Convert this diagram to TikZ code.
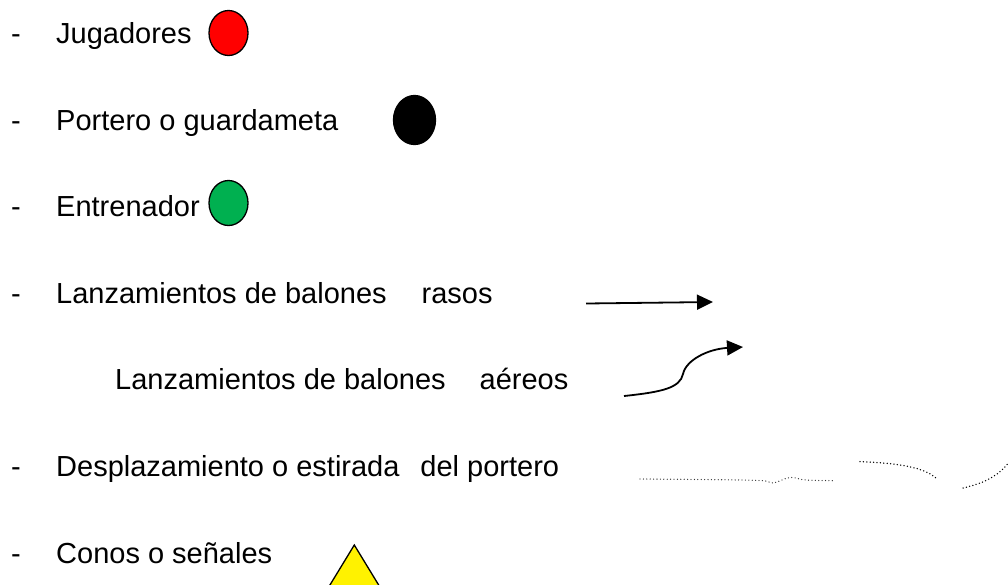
\documentclass[tikz,border=0pt]{standalone}
\usepackage{fontspec}
\setmainfont{Liberation Sans}
\usetikzlibrary{arrows.meta,shapes.geometric}
\definecolor{verde}{RGB}{0,176,80}

\tikzset{
  rotulo/.style={anchor=base west, inner sep=0pt, font=\fontsize{29}{34}\selectfont},
  ficha/.style={ellipse, draw, line width=1.3pt, inner sep=0pt, minimum width=39pt, minimum height=45pt},
  tiro/.style={line width=1.8pt, -{Triangle[length=16pt,width=15pt]}},
  estirada/.style={line cap=round, dash pattern=on 0pt off 3.4pt},
}

\begin{document}
\begin{tikzpicture}[x=1pt,y=-1pt]
    \useasboundingbox (0,0) rectangle (1008,584);
    \clip (0,0) rectangle (1008,584);

    % Guiones
    \foreach \n/\y in {1/43, 2/130, 3/216.5, 4/303, 6/476, 7/563}
        \node[rotulo] (guion\n) at (11,\y) {-};

    % Textos
    \node[rotulo] (jugadores) at (56,43) {Jugadores};
    \node[rotulo] (portero) at (56,130) {Portero o guardameta};
    \node[rotulo] (entrenador) at (56,216.5) {Entrenador};
    \node[rotulo] (rasos) at (56,303) {Lanzamientos de balones\hspace{35pt}rasos};
    \node[rotulo] (aereos) at (115,389) {Lanzamientos de balones\hspace{34pt}aéreos};
    \node[rotulo] (desplaza) at (56,476) {Desplazamiento o estirada\hspace{21pt}del portero};
    \node[rotulo] (conos) at (56,563) {Conos o señales};

    % Fichas
    \node[ficha, fill=red] (rojo) at (228.5,33) {};
    \node[ficha, fill=black, minimum width=42pt, minimum height=49pt] (negro) at (414.5,120) {};
    \node[ficha, fill=verde] (verde) at (228.5,203) {};

    % Lanzamientos
    \coordinate (r1) at (586,303.5);
    \coordinate (r2) at (713,302);
    \draw[tiro] (r1) -- (r2);

    \coordinate (a1) at (624,396);
    \coordinate (a2) at (683,374);
    \coordinate (a3) at (743,347);
    \draw[tiro] (a1) .. controls (662,392) and (680,388) .. (a2)
                     .. controls (686,360) and (708,349) .. (a3);

    % Desplazamientos del portero
    \draw[estirada, line width=1.3pt, black!80]
        plot[smooth, tension=0.6] coordinates {(640,479) (700,479.5) (760,480.5) (773,483)
                                              (790,477.5) (806,480) (835,480.7)};
    \draw[estirada, line width=1.5pt] (860,461.7) .. controls (900,463) and (926,468) .. (937,479);
    \draw[estirada, line width=1.5pt] (963,488) .. controls (985,483) and (1001,475) .. (1012,458);

    % Cono
    \filldraw[fill=yellow, line width=1.3pt, line join=miter] (354.3,545) -- (400,620) -- (308.6,620) -- cycle;
\end{tikzpicture}
\end{document}
